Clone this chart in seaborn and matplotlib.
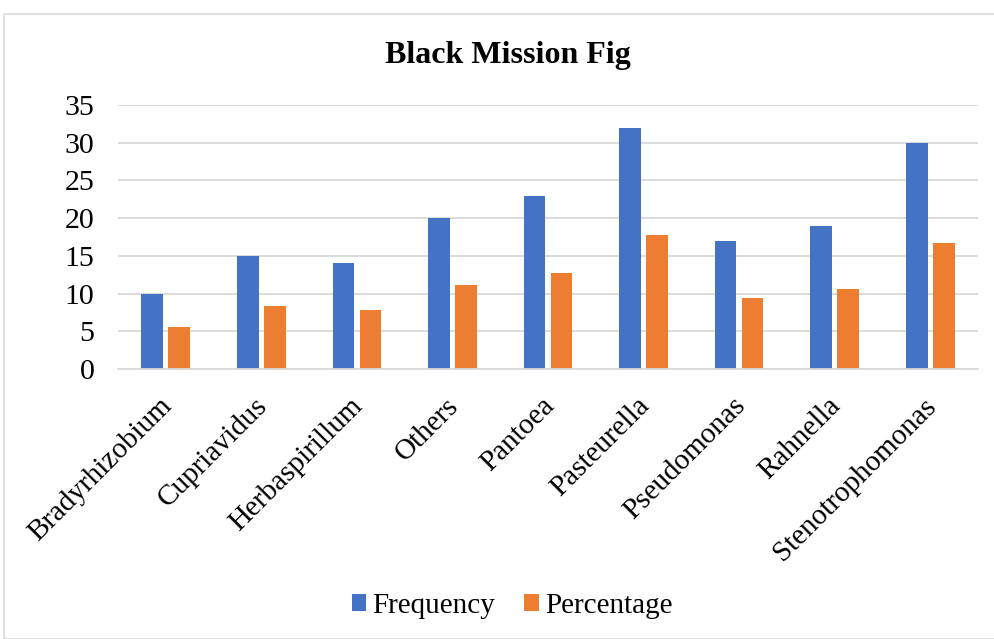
import matplotlib
matplotlib.use("Agg")
import matplotlib.pyplot as plt
import matplotlib.transforms as mtransforms
import seaborn as sns
import pandas as pd
from matplotlib.patches import Rectangle

genera = ["Bradyrhizobium", "Cupriavidus", "Herbaspirillum", "Others", "Pantoea",
          "Pasteurella", "Pseudomonas", "Rahnella", "Stenotrophomonas"]
frequency = [10, 15, 14, 20, 23, 32, 17, 19, 30]
percentage = [5.56, 8.33, 7.78, 11.11, 12.78, 17.78, 9.44, 10.56, 16.67]
series = ["Frequency", "Percentage"]
colors = ["#4472C4", "#ED7D31"]
y_ticks = [0, 5, 10, 15, 20, 25, 30, 35]

df = pd.DataFrame({
    "Genus": genera * 2,
    "Value": frequency + percentage,
    "Series": [series[0]] * len(genera) + [series[1]] * len(genera),
})

sns.set_theme(style="white")
plt.rcParams["font.family"] = ["Liberation Serif", "DejaVu Serif"]
plt.rcParams["text.color"] = "black"
plt.rcParams["xtick.color"] = "black"
plt.rcParams["ytick.color"] = "black"

fig = plt.figure(figsize=(9.95, 6.39), dpi=100)
ax = fig.add_axes([118 / 995, 1 - 369 / 639, (978 - 118) / 995, (369 - 105) / 639])

sns.barplot(data=df, x="Genus", y="Value", hue="Series", palette=colors,
            width=0.565, gap=0.2, ax=ax, legend=True, saturation=1)

ax.set_ylim(0, 35)
ax.set_yticks(y_ticks)
ax.set_yticklabels([str(t) for t in y_ticks], fontsize=21.5)
ax.set_xlabel("")
ax.set_ylabel("")
ax.set_xticks(range(len(genera)))
ax.set_xticklabels(genera, rotation=45, ha="right", rotation_mode="anchor", fontsize=21)
ax.tick_params(axis="y", length=0, pad=17)
ax.tick_params(axis="x", length=0, pad=10)
shift = mtransforms.ScaledTranslation(-7 / 100, -10 / 100, fig.dpi_scale_trans)
for lbl in ax.get_xticklabels():
    lbl.set_transform(lbl.get_transform() + shift)
ax.yaxis.grid(True, color="#d9d9d9", linewidth=1.3)
ax.set_axisbelow(True)
for side in ["top", "right", "left"]:
    ax.spines[side].set_visible(False)
ax.spines["bottom"].set_color("#d9d9d9")
ax.spines["bottom"].set_linewidth(1.3)

for patch in ax.patches:
    patch.set_linewidth(0)

handles, labels = ax.get_legend_handles_labels()
ax.legend_.remove()
fig.legend(handles, labels, loc="center", bbox_to_anchor=(512 / 995, 1 - 606 / 639),
           ncol=2, frameon=False, fontsize=21, handlelength=0.5, handleheight=0.5,
           handletextpad=0.2, columnspacing=1.0)

fig.text(508 / 995, 1 - 56 / 639, "Black Mission Fig", ha="center", va="center",
         fontsize=23, fontweight="bold")

fig.patches.append(Rectangle((4 / 995, 0), 1.2, 1 - 14 / 639, transform=fig.transFigure,
                             fill=False, edgecolor="#d9d9d9", linewidth=1.2))

fig.savefig("out.png", dpi=100)
